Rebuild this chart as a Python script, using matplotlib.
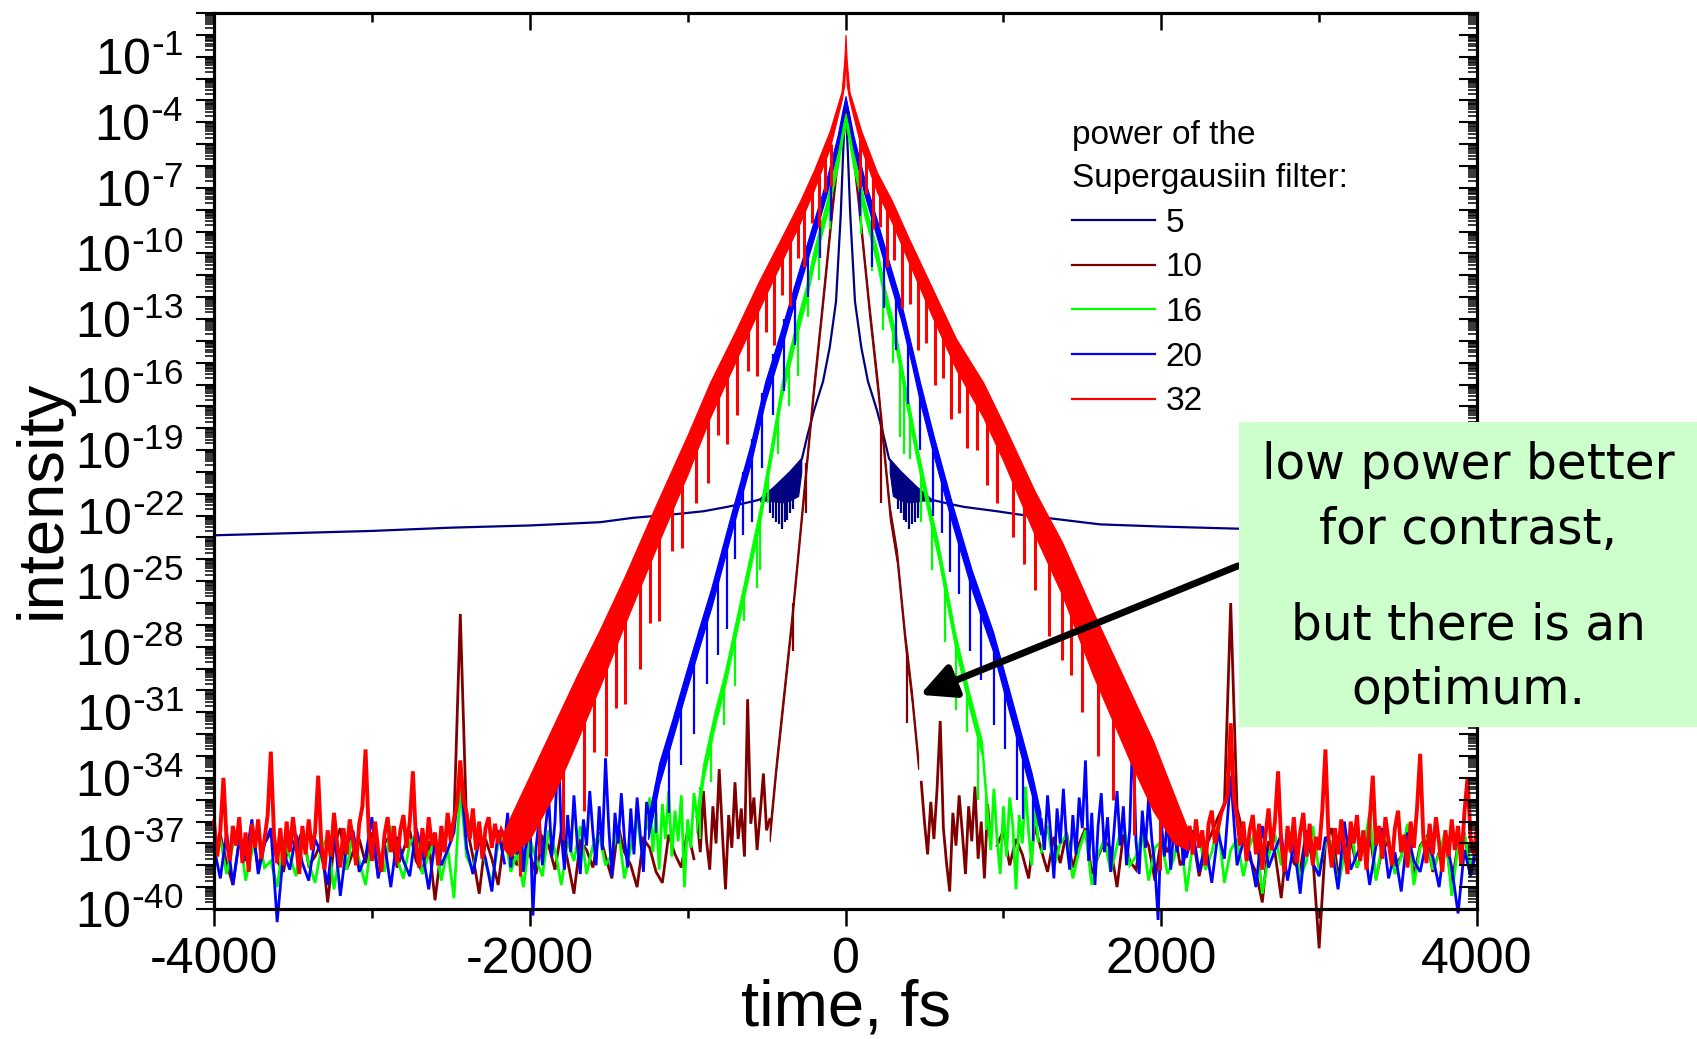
import numpy as np
import matplotlib
matplotlib.use("Agg")
import matplotlib.pyplot as plt
from matplotlib.lines import Line2D
from matplotlib.patches import Rectangle
from matplotlib.ticker import FixedLocator, FuncFormatter, NullFormatter

plt.rcParams['font.family'] = ['Liberation Sans', 'DejaVu Sans']
plt.rcParams['mathtext.default'] = 'regular'
plt.rcParams['axes.unicode_minus'] = False

# ------------------------------------------------------------------ data
# all intensities are given as log10(intensity); time in fs
series_labels = ['5', '10', '16', '20', '32']
series_colors = ['#000080', '#800000', '#00ff00', '#0000ff', '#ff0000']
legend_title = 'power of the\nSupergausiin filter:'
x_ticks = [-4000, -2000, 0, 2000, 4000]
y_label_exponents = [-1, -4, -7, -10, -13, -16, -19, -22, -25, -28, -31, -34, -37, -40]

# ---- power 5 (navy): smooth line + dense ripple patches near +-400 fs
navy_t = [-4000, -3500, -3000, -2500, -2000, -1554, -1346, -1100, -900, -750, -650, -560,
          -540, -500, -450, -400, -350, -300, -276, -240, -200, -142, -100, -60, -30, -15,
          -5, 0, 5, 15, 30, 60, 100, 142, 200, 240, 276, 300, 350, 400, 450, 500, 540,
          560, 650, 750, 960, 1100, 1612, 2000, 2500, 3000, 3500, 4000]
navy_L = [-22.9, -22.8, -22.7, -22.55, -22.45, -22.3, -22.1, -21.95, -21.8, -21.6, -21.45, -21.3,
          -21.25, -21.0, -20.7, -20.35, -20.0, -19.6, -19.4, -18.3, -17.2, -15.85, -14.3, -12.2,
          -8.2, -5.4, -3.8, -3.3, -3.8, -5.4, -8.2, -12.2, -14.3, -15.85, -17.2, -18.3, -19.4,
          -19.6, -20.0, -20.35, -20.7, -21.0, -21.25,
          -21.3, -21.45, -21.6, -21.8, -21.95, -22.4, -22.5, -22.6, -22.7, -22.8, -22.85]
navy_ripple_t = [-540, -500, -450, -400, -350, -300, -280, 280, 300, 350, 400, 450, 500, 540]
navy_ripple_hi = [-21.25, -21.0, -20.7, -20.35, -20.0, -19.6, -19.45,
                  -19.45, -19.6, -20.0, -20.35, -20.7, -21.0, -21.25]
navy_ripple_lo = [-21.35, -21.3, -21.35, -21.4, -21.3, -21.1, -20.0,
                  -20.0, -21.1, -21.3, -21.4, -21.35, -21.3, -21.35]
navy_drip_t = [-480, -460, -440, -420, -400, -385, -370, -350, -330,
               330, 350, 370, 385, 400, 420, 440, 460, 480]
navy_drip_top = [-21.2, -21.1, -21.0, -20.8, -20.6, -20.5, -20.4, -20.3, -20.2,
                 -20.2, -20.3, -20.4, -20.5, -20.6, -20.8, -21.0, -21.1, -21.2]
navy_drip_bot = [-21.9, -22.1, -22.3, -22.4, -22.6, -22.3, -22.2, -21.9, -21.7,
                 -21.7, -21.9, -22.2, -22.3, -22.6, -22.4, -22.3, -22.1, -21.9]

# ---- power 10 (brown)
brown_band_t = [-480, -440, -400, -340, -277, -205, -149, -85, -40, -15, 0, 15, 40, 85, 149,
                205, 281, 326, 376, 420, 460]
brown_band_hi = [-36.2, -33.2, -30.5, -26.4, -21.6, -16.1, -12.2, -7.6, -4.6, -3.4, -3.0, -3.4,
                 -4.6, -7.6, -12.2, -15.9, -21.6, -23.6, -27.3, -30.0, -33.0]
brown_band_lo = [-36.9, -33.8, -31.1, -27.0, -22.2, -16.7, -12.8, -8.2, -5.2, -4.0, -3.6, -4.0,
                 -5.2, -8.2, -12.8, -16.5, -22.2, -24.2, -27.9, -30.6, -33.6]
brown_drip_t = [-330, -248, 225, 390]
brown_drip_top = [-26.0, -19.6, -17.3, -28.2]
brown_drip_bot = [-28.2, -21.9, -21.4, -31.5]
brown_far_left = [-37.3, -36.6, -37.9, -38.9, -36.8, -37.5, -36.2, -38.1, -37.0, -36.5,
                  -37.8, -38.3, -36.7, -37.2, -36.4, -38.0, -37.6, -36.9, -39.7, -37.1,
                  -36.3, -38.2, -37.4, -36.8, -37.9, -36.5, -38.5, -37.0, -36.6, -38.1,
                  -37.3, -36.4, -37.8, -38.3, -36.9, -39.6, -37.2, -36.5, -36.0, -26.5,
                  -36.2, -37.6, -39.3, -36.8, -37.7, -38.9, -36.6, -37.4, -38.0, -36.3,
                  -37.5, -38.4, -36.7, -37.1, -38.2, -36.4, -37.8, -39.3, -36.9, -37.3,
                  -38.1, -36.5, -37.6, -38.6, -36.2, -37.4, -38.0, -39.0, -36.8, -37.2,
                  -38.3, -38.8, -36.6, -37.5, -38.1, -36.4, -37.7]
brown_near_left = [-35.8, -37.4, -34.6, -36.9, -38.2, -35.3, -37.0, -33.6, -36.5, -39.1,
                   -35.7, -37.2, -34.2, -36.8, -35.4, -37.6, -30.4, -36.1, -34.9, -37.3,
                   -35.6, -33.8, -36.4, -35.9]
brown_near_right = [-34.2, -36.0, -37.5, -35.1, -36.8, -34.5, -31.4, -36.3, -37.9, -39.2,
                    -35.6, -37.1, -34.8, -36.5, -38.4, -35.3, -36.9, -34.4, -37.7, -36.0,
                    -38.6, -35.2, -37.0]
brown_far_right = [-37.1, -36.4, -38.0, -36.8, -37.5, -38.6, -36.2, -37.3, -38.3, -36.7,
                   -37.9, -36.5, -38.1, -37.0, -36.3, -38.4, -37.6, -36.9, -37.2, -39.0,
                   -36.6, -37.8, -38.2, -36.4, -37.1, -38.7, -36.8, -37.4, -36.2, -38.0,
                   -37.5, -36.7, -38.5, -37.2, -36.5, -35.8, -35.2, -26.0, -35.4, -36.6,
                   -37.7, -38.3, -39.7, -36.9, -37.4, -39.5, -36.6, -37.9, -38.2, -36.4,
                   -37.6, -41.8, -37.0, -36.3, -38.4, -37.5, -36.8, -38.1, -37.2, -36.5,
                   -38.6, -37.3, -36.9, -38.0, -37.6, -36.2, -38.5, -37.1, -36.7, -38.3,
                   -37.4, -36.8, -38.9, -37.0, -36.6, -38.2, -37.5]

# ---- power 16 (green)
green_band_t = [-945, -900, -830, -760, -710, -620, -541, -470, -404, -317, -250, -200, -120,
                -50, -20, 0, 20, 50, 120, 200, 250, 317, 376, 450, 535, 586, 693, 780, 864, 900]
green_band_hi = [-35.6, -33.3, -31.0, -29.0, -27.3, -24.3, -21.6, -18.7, -15.9, -13.3, -11.5,
                 -9.8, -7.6, -5.4, -4.2, -3.6, -4.2, -5.4, -7.6, -9.8, -11.6, -13.6, -15.9,
                 -18.7, -21.6, -23.2, -27.3, -30.0, -32.3, -35.3]
green_band_lo = [-36.5, -34.1, -31.7, -29.7, -28.0, -25.0, -22.3, -19.4, -16.6, -14.0, -12.2,
                 -10.5, -8.3, -6.1, -4.8, -4.1, -4.8, -6.1, -8.3, -10.5, -12.3, -14.3, -16.6,
                 -19.4, -22.3, -23.9, -28.0, -30.7, -33.0, -36.2]
green_drip_t = [-920, -850, -770, -700, -640, -560, -540, -490, -428, -360, -300, -240, -170,
                -100, 100, 170, 240, 300, 345, 370, 410, 480, 550, 630, 700, 770, 840, 890]
green_drip_top = [-34.4, -32.0, -29.6, -27.3, -25.3, -22.6, -21.9, -19.8, -17.2, -14.9, -13.1,
                  -11.5, -9.3, -7.3, -7.3, -9.3, -11.6, -13.4, -15.0, -15.9, -17.5, -20.0,
                  -22.4, -25.0, -27.8, -30.0, -32.0, -34.9]
green_drip_bot = [-36.8, -34.2, -31.6, -29.8, -26.8, -25.3, -24.5, -21.4, -19.2, -17.0, -15.6,
                  -12.9, -11.2, -8.9, -9.1, -10.8, -13.5, -15.0, -18.4, -19.2, -19.4, -22.3,
                  -24.5, -27.8, -30.9, -31.9, -35.0, -36.4]
green_far_left = [-37.5, -36.8, -38.4, -37.1, -36.3, -38.7, -37.4, -36.6, -38.1, -37.8,
                  -39.0, -36.9, -37.6, -38.5, -36.4, -37.9, -38.8, -37.2, -36.7, -39.1,
                  -37.3, -38.2, -36.5, -37.8, -38.9, -36.8, -37.4, -38.3, -36.2, -37.7,
                  -38.6, -37.0, -36.6, -38.4, -37.5, -36.9, -38.7, -37.2, -39.5, -34.5,
                  -37.6, -38.2, -36.7, -37.9, -38.8, -37.0, -36.5, -38.3, -37.4, -39.0,
                  -36.8, -37.7, -38.5, -36.4, -37.3, -38.9, -36.9, -37.8, -36.2, -38.4,
                  -37.1, -36.6, -38.0, -37.5, -36.3, -38.6, -37.2, -35.8, -37.9]
green_near_left = [-36.3, -34.9, -37.4, -35.6, -38.2, -35.2, -36.8, -34.6, -37.6, -35.5,
                   -36.9, -34.8, -39.0, -35.9, -37.2, -34.7, -35.8]
green_near_right = [-35.6, -37.3, -34.5, -36.8, -38.4, -35.3, -37.6, -34.9, -36.2, -39.1,
                    -35.7, -37.0, -34.4, -36.5, -38.0, -35.1, -36.9]
green_far_right = [-37.4, -36.2, -38.1, -37.0, -36.6, -38.6, -37.3, -36.4, -38.9, -37.5,
                   -36.8, -38.3, -37.1, -35.9, -38.0, -37.6, -36.5, -38.7, -37.2, -36.9,
                   -38.4, -37.7, -36.3, -39.2, -37.0, -36.7, -38.2, -37.4, -36.1, -38.8,
                   -37.3, -36.8, -38.5, -37.1, -36.4, -39.3, -37.6, -36.6, -38.0, -37.2,
                   -36.5, -38.6, -37.8, -36.2, -38.3, -37.0, -36.9, -39.0, -37.5, -36.3,
                   -38.1, -37.3, -35.6, -38.7, -37.0, -36.8, -38.4, -37.6, -36.1, -38.9,
                   -37.2, -36.7, -38.2, -37.5, -36.4, -39.4, -37.1, -36.6, -38.0, -37.3]

# ---- power 20 (blue)
blue_band_t = [-1250, -1180, -1100, -1020, -934, -850, -712, -600, -510, -420, -350, -280,
               -200, -120, -50, -20, 0, 20, 50, 120, 200, 280, 350, 420, 472, 560, 681, 800,
               934, 1030, 1124, 1180, 1235]
blue_band_hi = [-35.8, -33.3, -31.4, -29.4, -27.3, -25.3, -21.6, -18.7, -15.9, -13.8, -12.1,
                -10.4, -8.5, -6.6, -4.6, -3.5, -2.8, -3.5, -4.6, -6.6, -8.5, -10.5, -12.2,
                -14.3, -15.9, -18.4, -21.6, -24.5, -27.3, -29.8, -32.3, -33.8, -35.6]
blue_band_lo = [-36.8, -34.3, -32.3, -30.3, -28.2, -26.2, -22.5, -19.6, -16.8, -14.7, -12.9,
                -11.2, -9.3, -7.3, -5.2, -4.0, -3.2, -4.0, -5.2, -7.3, -9.3, -11.3, -13.0,
                -15.1, -16.8, -19.3, -22.5, -25.4, -28.2, -30.8, -33.3, -34.8, -36.6]
blue_drip_t = [-1200, -1120, -1040, -960, -880, -806, -753, -700, -647, -594, -530, -460,
               -390, -320, -240, -160, -90,
               90, 165, 245, 320, 395, 470, 556, 610, 662, 720, 790, 860, 940, 1010, 1085,
               1125, 1190]
blue_drip_top = [-34.3, -32.4, -30.4, -28.5, -26.5, -24.5, -23.0, -21.5, -20.0, -18.5, -16.4,
                 -14.6, -13.0, -11.5, -9.6, -7.7, -6.0,
                 -6.0, -7.9, -9.8, -11.6, -13.8, -16.0, -18.5, -20.0, -21.3, -22.7, -24.5,
                 -26.1, -27.7, -29.6, -31.5, -32.6, -34.3]
blue_drip_bot = [-36.5, -35.6, -33.4, -32.0, -29.7, -28.4, -27.2, -24.0, -22.9, -22.3, -19.8,
                 -17.4, -16.3, -14.2, -12.0, -10.2, -8.5,
                 -8.3, -10.6, -12.5, -14.4, -16.9, -19.0, -22.0, -22.8, -24.6, -25.6, -28.2,
                 -29.5, -31.6, -32.7, -35.0, -35.9, -36.9]
blue_far_left = [-37.2, -38.6, -36.5, -38.9, -36.9, -37.8, -35.9, -38.4, -37.0, -36.3,
                 -40.6, -37.4, -38.2, -36.6, -37.9, -38.7, -36.8, -37.5, -38.9, -36.2,
                 -39.4, -37.1, -36.4, -38.3, -37.6, -35.8, -38.6, -37.0, -39.0, -36.7,
                 -37.8, -38.5, -36.3, -37.4, -39.1, -36.9, -38.0, -37.3, -36.5, -33.6,
                 -37.2, -38.4, -36.8, -37.7, -39.2, -36.4, -37.9]
blue_near_left = [-37.0, -35.6, -38.1, -36.4, -37.5, -35.2, -38.3, -36.7, -35.5, -40.3,
                  -37.2, -35.8, -38.0, -36.3, -34.9, -37.6, -36.0, -32.3, -36.6, -38.2,
                  -35.7, -37.4, -34.8, -36.9, -38.4, -35.9, -37.1, -34.6, -36.5, -38.0,
                  -35.3, -37.3, -33.1, -36.2, -38.5, -35.6, -37.0, -34.7, -36.8, -38.1,
                  -35.4, -37.5, -34.9, -36.6, -38.3, -35.1, -35.8]
blue_near_right = [-35.9, -37.3, -34.8, -36.6, -38.6, -35.4, -37.0, -34.5, -36.9, -38.2,
                   -35.7, -37.5, -34.9, -36.3, -33.2, -37.8, -35.6, -38.9, -36.2, -34.7,
                   -37.4, -35.8, -38.3, -36.5, -34.6, -37.1, -35.3, -38.0, -36.4, -31.8,
                   -36.9, -38.4, -35.5, -37.2, -34.9, -36.8, -38.1, -40.5, -36.0, -37.6,
                   -35.7, -38.2, -36.3, -37.4, -35.9, -38.0, -36.6]
blue_far_right = [-37.6, -36.4, -38.3, -37.0, -38.8, -36.5, -37.7, -33.9, -38.0, -36.9,
                  -37.4, -39.0, -36.2, -38.1, -37.3, -36.6, -38.7, -37.0, -39.3, -36.4,
                  -37.9, -38.5, -36.7, -37.2, -39.1, -36.0, -38.2, -37.5, -36.8, -38.9,
                  -37.1, -36.3, -38.6, -37.4, -39.2, -36.5, -37.8, -38.3, -36.9, -37.6,
                  -39.0, -36.7, -38.1, -40.2, -37.3, -38.5, -36.8]

# ---- power 32 (red)
red_band_t = [-2170, -2124, -2000, -1850, -1700, -1555, -1400, -1206, -1000, -858, -700, -550,
              -400, -288, -200, -100, -25, -8, 0, 8, 25, 100, 200, 295, 400, 550, 700, 872,
              1000, 1200, 1371, 1568, 1800, 1948, 2083, 2170]
red_band_hi = [-36.6, -35.8, -33.9, -31.6, -29.3, -27.2, -24.8, -21.6, -18.3, -15.9, -13.6,
               -11.3, -9.2, -7.6, -6.2, -4.4, -2.6, -1.2, 0.0, -1.2, -2.6, -4.4, -6.3, -7.6,
               -9.3, -11.6, -13.9, -15.9, -17.8, -20.9, -23.2, -26.4, -30.0, -32.3, -34.8,
               -36.4]
red_band_lo = [-37.2, -37.6, -36.8, -34.8, -32.3, -29.8, -27.0, -23.6, -20.1, -17.5, -15.0,
               -12.6, -10.3, -8.6, -7.1, -5.2, -3.0, -2.3, -1.0, -2.3, -3.0, -5.2, -7.2, -8.6,
               -10.4, -12.9, -15.3, -17.5, -19.5, -22.9, -25.6, -29.3, -33.2, -35.5, -37.0,
               -37.3]
red_drip_t = [-2060, -1940, -1790, -1654, -1590, -1520, -1455, -1395, -1300, -1240, -1180,
              -1100, -1036, -950, -870, -810, -751, -688, -620, -560, -505, -455, -400, -350,
              -300, -260, -215, -170, -130, -90,
              90, 130, 175, 220, 265, 310, 355, 410, 460, 510, 565, 615, 671, 720, 767, 830,
              894, 960, 1061, 1130, 1200, 1290, 1369, 1430, 1500, 1600, 1694, 1825, 1990]
red_drip_top = [-36.0, -34.4, -32.0, -29.8, -28.8, -27.8, -26.8, -25.8, -24.2, -23.2, -22.3,
                -20.9, -19.9, -18.4, -17.0, -16.0, -15.2, -14.3, -13.1, -12.4, -11.5, -10.8,
                -9.8, -9.3, -8.5, -7.8, -7.0, -6.4, -5.7, -5.0,
                -4.8, -5.6, -6.4, -7.1, -7.9, -8.6, -9.4, -10.3, -11.0, -11.8, -12.6, -13.4,
                -14.2, -14.9, -15.6, -16.6, -17.4, -18.4, -20.0, -21.0, -22.3, -23.7, -25.0,
                -26.1, -27.6, -29.3, -31.0, -33.0, -35.3]
red_drip_bot = [-38.5, -37.5, -36.8, -35.5, -32.8, -33.0, -30.8, -30.6, -29.0, -26.9, -26.8,
                -23.6, -23.5, -21.4, -20.5, -18.3, -18.7, -17.4, -15.4, -15.6, -13.6, -14.2,
                -11.9, -12.4, -10.2, -10.6, -8.6, -8.8, -7.2, -6.9,
                -7.0, -7.3, -8.9, -8.8, -10.6, -10.3, -12.5, -12.3, -14.4, -14.1, -16.0, -15.7,
                -17.6, -17.3, -18.9, -19.0, -20.6, -21.4, -23.0, -24.2, -25.4, -27.5, -28.6,
                -29.3, -31.0, -33.0, -35.0, -36.6, -38.2]
red_floor_left = [-36.0, -37.6, -36.4, -34.0, -36.9, -37.8, -36.2, -37.1, -35.8, -37.9,
                  -36.5, -38.3, -36.1, -37.2, -35.9, -37.7, -36.8, -35.7, -32.8, -36.6,
                  -37.9, -36.3, -38.0, -36.0, -37.4, -35.8, -37.0, -38.4, -36.2, -37.5,
                  -35.9, -37.3, -36.5, -33.9, -37.1, -38.2, -36.4, -37.6, -35.6, -37.0,
                  -38.1, -36.3, -37.5, -35.9, -36.8, -38.0, -36.1, -35.3, -32.7, -36.5,
                  -37.8, -36.0, -37.3, -38.3, -36.6, -35.8, -37.4, -36.2, -37.9, -36.4,
                  -35.7, -37.2, -36.0, -33.7, -37.0, -38.1, -36.3, -37.6, -35.8, -37.1,
                  -36.5, -38.0, -36.2, -37.4, -35.6, -36.9, -35.9, -35.2, -33.2, -35.0,
                  -35.6, -36.8, -35.4, -37.3, -36.0, -37.7, -36.3, -35.8, -37.2, -36.1,
                  -37.0, -36.4, -36.7]
red_floor_right = [-36.9, -36.2, -37.5, -35.9, -37.2, -36.4, -38.0, -36.1, -35.5, -37.0,
                   -36.3, -35.6, -35.2, -34.8, -31.5, -34.9, -35.8, -37.1, -36.0, -37.8,
                   -36.4, -35.7, -37.5, -36.1, -38.2, -36.6, -35.4, -37.3, -36.0, -33.7,
                   -37.0, -38.3, -36.2, -37.4, -35.8, -37.9, -36.5, -35.6, -37.6, -36.1,
                   -38.0, -36.7, -37.3, -35.5, -32.7, -36.8, -38.1, -36.3, -37.5, -35.9,
                   -37.2, -38.4, -36.0, -37.0, -35.7, -37.8, -36.4, -38.2, -36.0, -33.9,
                   -37.1, -36.2, -37.7, -35.8, -36.9, -38.0, -36.3, -35.5, -37.4, -36.6,
                   -38.1, -36.0, -37.2, -35.4, -32.9, -36.7, -37.9, -36.1, -37.5, -35.8,
                   -37.0, -38.3, -36.4, -37.6, -35.9, -37.3, -36.2, -38.0, -35.6, -34.0,
                   -36.8, -37.5, -36.3]

# noise-floor segments: (start time, sample step, values)
brown_floors = [(-4000, 40, brown_far_left), (-940, 20, brown_near_left),
                (480, 20, brown_near_right), (960, 40, brown_far_right)]
green_floors = [(-4000, 40, green_far_left), (-1260, 20, green_near_left),
                (900, 20, green_near_right), (1240, 40, green_far_right)]
blue_floors = [(-4000, 40, blue_far_left), (-2160, 20, blue_near_left),
               (1240, 20, blue_near_right), (2160, 40, blue_far_right)]
red_floors = [(-4000, 20, red_floor_left), (2160, 20, red_floor_right)]

# ------------------------------------------------------------------ figure
W, H = 1697, 1039
fig = plt.figure(figsize=(W / 100, H / 100), dpi=100)
ax = fig.add_axes([214 / W, 1 - 909 / H, (1477 - 214) / W, (909 - 13) / H])
ax.set_yscale('log')


def P(v):
    return 10.0 ** np.asarray(v, dtype=float)


def draw(color, z, band, drips, floors, lw, drip_lw=1.6):
    bt, bhi, blo = band
    ax.fill_between(bt, P(blo), P(bhi), facecolor=color, edgecolor=color, lw=0.8, zorder=z)
    dt_, dtop, dbot = drips
    ax.vlines(dt_, P(dbot), P(dtop), color=color, lw=drip_lw, zorder=z)
    for t0, step, vals in floors:
        t = t0 + step * np.arange(len(vals))
        ax.plot(t, P(vals), color=color, lw=lw, zorder=z, clip_on=False,
                solid_joinstyle='miter')


navy = series_colors[0]
ax.plot(navy_t, P(navy_L), color=navy, lw=1.6, zorder=2)
ax.fill_between(navy_ripple_t[:7], P(navy_ripple_lo[:7]), P(navy_ripple_hi[:7]),
                facecolor=navy, edgecolor=navy, lw=0.8, zorder=2)
ax.fill_between(navy_ripple_t[7:], P(navy_ripple_lo[7:]), P(navy_ripple_hi[7:]),
                facecolor=navy, edgecolor=navy, lw=0.8, zorder=2)
ax.vlines(navy_drip_t, P(navy_drip_bot), P(navy_drip_top), color=navy, lw=1.6, zorder=2)

draw(series_colors[1], 3, (brown_band_t, brown_band_hi, brown_band_lo),
     (brown_drip_t, brown_drip_top, brown_drip_bot), brown_floors, 2.0)
draw(series_colors[2], 4, (green_band_t, green_band_hi, green_band_lo),
     (green_drip_t, green_drip_top, green_drip_bot), green_floors, 2.0)
draw(series_colors[3], 5, (blue_band_t, blue_band_hi, blue_band_lo),
     (blue_drip_t, blue_drip_top, blue_drip_bot), blue_floors, 2.0)
draw(series_colors[4], 6, (red_band_t, red_band_hi, red_band_lo),
     (red_drip_t, red_drip_top, red_drip_bot), red_floors, 2.8, drip_lw=2.2)

# axes limits / ticks
ax.set_xlim(-4000, 4000)
ax.set_ylim(1e-40, 1e1)
major_y = [10.0 ** e for e in range(-40, 2)]
minor_y = [m * 10.0 ** e for e in range(-40, 1) for m in range(2, 10)]


def yfmt(v, pos):
    e = int(round(np.log10(v)))
    if e in y_label_exponents:
        return r'$\mathregular{10^{\text{-}%d}}$' % (-e)
    return ''


ax.yaxis.set_major_locator(FixedLocator(major_y))
ax.yaxis.set_minor_locator(FixedLocator(minor_y))
ax.yaxis.set_major_formatter(FuncFormatter(yfmt))
ax.yaxis.set_minor_formatter(NullFormatter())
ax.xaxis.set_major_locator(FixedLocator(x_ticks))
ax.xaxis.set_minor_locator(FixedLocator([-3000, -1000, 1000, 3000]))

ax.tick_params(axis='y', which='major', direction='out', length=13, width=1.5,
               labelsize=36, pad=9, left=True, right=False)
ax.tick_params(axis='y', which='minor', direction='out', length=6.5, width=1.1,
               left=True, right=False)
ax.tick_params(axis='x', which='major', direction='out', length=12, width=1.8,
               labelsize=36, pad=8, bottom=True, top=False)
ax.tick_params(axis='x', which='minor', direction='out', length=6.5, width=1.8,
               bottom=True, top=False)
for s in ax.spines.values():
    s.set_linewidth(2.2)

# right & top axes with inward ticks
axr = ax.twinx()
axr.set_yscale('log')
axr.set_ylim(1e-40, 1e1)
axr.yaxis.set_major_locator(FixedLocator(major_y))
axr.yaxis.set_minor_locator(FixedLocator(minor_y))
axr.yaxis.set_major_formatter(NullFormatter())
axr.yaxis.set_minor_formatter(NullFormatter())
axr.tick_params(axis='y', which='major', direction='in', length=13, width=1.5,
                right=True, left=False, labelright=False)
axr.tick_params(axis='y', which='minor', direction='in', length=6.5, width=1.1,
                right=True, left=False)
axt = ax.twiny()
axt.set_xlim(-4000, 4000)
axt.xaxis.set_major_locator(FixedLocator(x_ticks))
axt.xaxis.set_minor_locator(FixedLocator([-3000, -1000, 1000, 3000]))
axt.tick_params(axis='x', which='major', direction='in', length=12, width=1.8,
                top=True, bottom=False, labeltop=False)
axt.tick_params(axis='x', which='minor', direction='in', length=6.5, width=1.8,
                top=True, bottom=False)
for a in (axr, axt):
    for s in a.spines.values():
        s.set_linewidth(2.2)

# axis labels
ax.set_xlabel('time, fs', fontsize=47)
ax.xaxis.set_label_coords(0.5, -0.078)
ax.set_ylabel('intensity', fontsize=47)
ax.yaxis.set_label_coords(-0.112, 0.457)

# legend
handles = [Line2D([], [], color=c, lw=1.6) for c in series_colors]
leg = ax.legend(handles, series_labels, title=legend_title, loc='upper left',
                bbox_to_anchor=(1072 / W, 1 - 120 / H), bbox_transform=fig.transFigure,
                frameon=False, fontsize=24, title_fontsize=24, alignment='left',
                handlelength=2.5, handletextpad=0.3, labelspacing=0.41, borderpad=0,
                borderaxespad=0)
leg.get_title().set_linespacing(1.5)
leg.set_zorder(20)

# arrow and note box
ax.annotate('', xy=(472, 10 ** -30.2), xytext=(2486, 10 ** -24.3),
            arrowprops=dict(arrowstyle='-|>', lw=5, color='black', mutation_scale=52,
                            shrinkA=0, shrinkB=0),
            annotation_clip=False, zorder=15)
fig.add_artist(Rectangle((1239 / W, 1 - 727 / H), 458 / W, 305 / H,
                         transform=fig.transFigure, facecolor='#ccffcc',
                         edgecolor='none', zorder=30))
note_lines = ['low power better', 'for contrast,', 'but there is an', 'optimum.']
note_y = [465, 530, 626, 690]
for txt, yy in zip(note_lines, note_y):
    fig.text(1468 / W, 1 - yy / H, txt, fontsize=35, ha='center', va='center',
             family='DejaVu Sans', zorder=31)

fig.savefig('out.png', dpi=100)
